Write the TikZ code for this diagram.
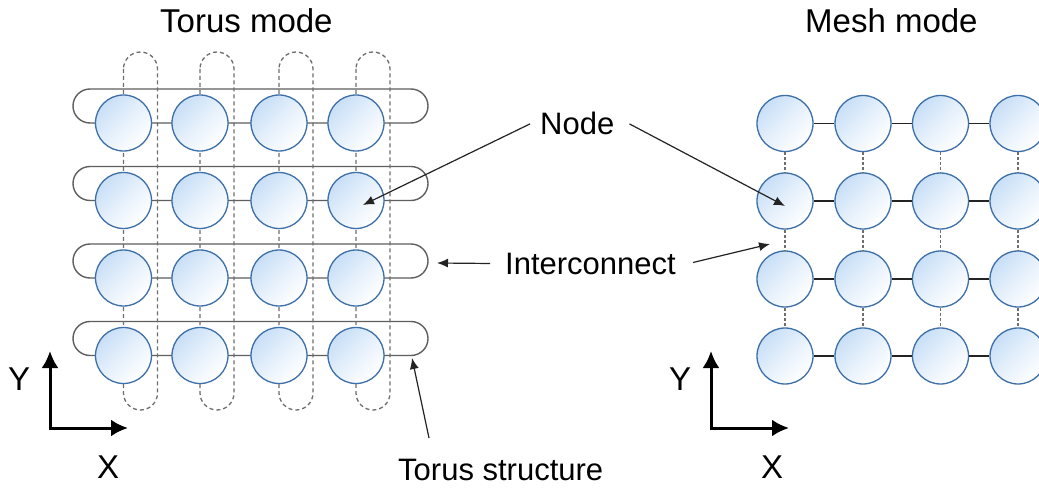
\documentclass[tikz,border=0pt]{standalone}
\usepackage{fontspec}
\setmainfont{Liberation Sans}
\usetikzlibrary{arrows.meta}
\definecolor{nodeblue}{RGB}{61,111,168}
\definecolor{nodefill}{RGB}{200,223,247}
\definecolor{loopgray}{RGB}{95,95,95}
\definecolor{dashgray}{RGB}{110,110,110}
\definecolor{linkdark}{RGB}{35,35,35}
\begin{document}
\begin{tikzpicture}[x=1pt,y=-1pt,
  netnode/.style={circle,draw=nodeblue,line width=1.3pt,minimum size=56pt,inner sep=0pt,
    top color=nodefill,bottom color=white,middle color=nodefill!45!white,shading angle=45},
  hloop/.style={draw=loopgray,line width=1.4pt,rounded corners=17pt},
  vloop/.style={draw=dashgray,line width=1.3pt,dash pattern=on 4pt off 3pt,rounded corners=17pt},
  hlink/.style={draw=linkdark,line width=1.8pt},
  vlink/.style={draw=dashgray,line width=1.2pt,dash pattern=on 3pt off 2pt},
  lbl/.style={inner sep=0pt,anchor=base west,font=\fontsize{31}{37}\selectfont},
  ttl/.style={inner sep=0pt,anchor=base west,font=\fontsize{33}{39}\selectfont},
  callout/.style={draw=linkdark,line width=1.2pt,-{Latex[length=11pt,width=9pt]}},
  axis/.style={draw=black,line width=3pt,-{Latex[length=17pt,width=17pt]}}]
\useasboundingbox (0,0) rectangle (1039,489);
\clip (0,0) rectangle (1039,489);
\fill[white] (0,0) rectangle (1039,489);

% Torus: horizontal racetrack loops
\foreach \y in {123,200.5,278,355.5}{
  \draw[hloop] (73,\y-34) rectangle (428,\y);
}
% Torus: vertical dashed loops
\foreach \x in {123.5,200,279,356}{
  \draw[vloop] (\x,52) rectangle (\x+34,410);
}
% Torus nodes
\foreach \r/\y in {1/123,2/200.5,3/278,4/355.5}{
  \foreach \c/\x in {1/123.5,2/200,3/279,4/356}{
    \node[netnode] (t-\r-\c) at (\x,\y) {};
  }
}

% Mesh nodes
\foreach \r/\y in {1/123.5,2/201,3/279,4/356}{
  \foreach \c/\x in {1/785,2/863,3/940.5,4/1018}{
    \node[netnode] (m-\r-\c) at (\x,\y) {};
  }
}
% Mesh links
\foreach \r in {1,2,3,4}{
  \foreach \c/\n in {1/2,2/3,3/4}{
    \draw[hlink] (m-\r-\c) -- (m-\r-\n);
  }
}
\foreach \r/\n in {1/2,2/3,3/4}{
  \foreach \c in {1,2,3,4}{
    \draw[vlink] (m-\r-\c) -- (m-\n-\c);
  }
}

% Titles
\node[ttl] (torustitle) at (160,33) {Torus mode};
\node[ttl] (meshtitle) at (805,33) {Mesh mode};

% Labels
\node[lbl] (nodelabel) at (540,135) {Node};
\node[lbl] (iclabel) at (505,275) {Interconnect};
\node[lbl] (tslabel) at (398,480) {Torus structure};

% Callout endpoints
\coordinate (nodeTipL) at (363,205);
\coordinate (nodeTipR) at (785,206);
\coordinate (icTipL) at (437,263);
\coordinate (icTipR) at (770,244);
\coordinate (tsTail) at (429,438);
\coordinate (tsTip) at (412,358);

\draw[callout] ([xshift=-10pt]nodelabel.west) -- (nodeTipL);
\draw[callout] ([xshift=15pt]nodelabel.east) -- (nodeTipR);
\draw[callout] ([xshift=-15pt,yshift=1pt]iclabel.west) -- (icTipL);
\draw[callout] ([xshift=17pt,yshift=2pt]iclabel.east) -- (icTipR);
\draw[callout] (tsTail) -- (tsTip);

% Axes left
\coordinate (oL) at (50,428);
\coordinate (yL) at (50,351);
\coordinate (xL) at (128,428);
\draw[axis] ([yshift=1.5pt]oL) -- (yL);
\draw[axis] ([xshift=-1.5pt]oL) -- (xL);
\node[ttl] (ylabL) at (8,390) {Y};
\node[ttl] (xlabL) at (97,478) {X};

% Axes right
\coordinate (oR) at (711,428);
\coordinate (yR) at (711,351);
\coordinate (xR) at (789,428);
\draw[axis] ([yshift=1.5pt]oR) -- (yR);
\draw[axis] ([xshift=-1.5pt]oR) -- (xR);
\node[ttl] (ylabR) at (669,390) {Y};
\node[ttl] (xlabR) at (761,478) {X};
\end{tikzpicture}
\end{document}
